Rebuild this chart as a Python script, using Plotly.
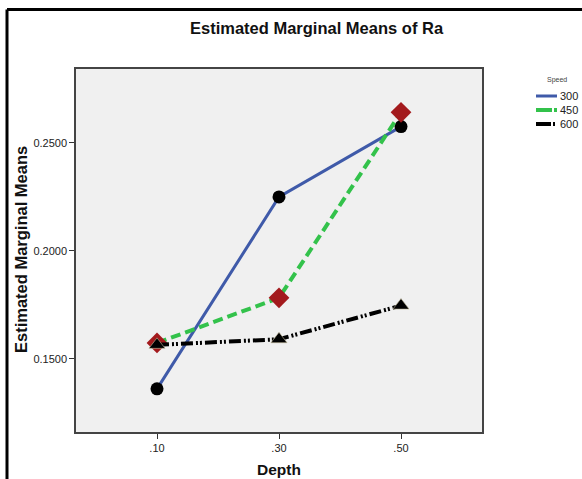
import plotly.graph_objects as go

depths = [".10", ".30", ".50"]
speeds = ["300", "450", "600"]
means_300 = [0.1360, 0.2250, 0.2576]
means_450 = [0.1573, 0.1782, 0.2642]
means_600 = [0.1564, 0.1590, 0.1746]

W, H = 582, 479
ML, MR, MT, MB = 76, 100, 69, 47
PW, PH = W - ML - MR, H - MT - MB

def px2x(px):
    return (px - ML) / PW

def px2y(py):
    return 1 - (py - MT) / PH

FONT = "Liberation Sans, Arial, sans-serif"

styles = {
    "300": dict(color="#3f5aa9", width=3, dash="solid"),
    "450": dict(color="#33c24b", width=4, dash="10px,5px"),
    "600": dict(color="#000000", width=4, dash="12px,3px,2px,2px,2px,3px"),
}
legend_dash = {
    "300": "solid",
    "450": "16px,2px,4px,10px",
    "600": "15px,2px,2px,2px,2px,10px",
}
markers = {
    "300": dict(symbol="circle", size=13, color="#000000", line=dict(width=0)),
    "450": dict(symbol="diamond", size=16, color="#a31a1d", line=dict(width=0)),
    "600": dict(symbol="triangle-up", size=14, color="#000000", line=dict(width=0.6, color="#c8c0a0")),
}

fig = go.Figure()
for name, vals in zip(speeds, [means_300, means_450, means_600]):
    fig.add_trace(go.Scatter(
        x=depths, y=vals, mode="lines+markers", name=name,
        line=styles[name], marker=markers[name], showlegend=False,
    ))

fig.update_layout(
    width=W, height=H,
    margin=dict(l=ML, r=MR, t=MT, b=MB, autoexpand=False),
    paper_bgcolor="white",
    plot_bgcolor="#f0f0f0",
    font=dict(family=FONT, size=11, color="#222222"),
    showlegend=False,
)

fig.update_xaxes(
    type="category", range=[-0.664, 2.664], automargin=False,
    showgrid=False, zeroline=False,
    showline=True, linecolor="#444444", linewidth=1.5, mirror=True,
    ticks="outside", ticklen=5, tickcolor="#333333", tickwidth=1,
    tickfont=dict(size=11, color="#222222"),
)
fig.update_yaxes(
    range=[0.1160, 0.2843], dtick=0.05, tick0=0.15, tickformat=".4f", automargin=False,
    showgrid=False, zeroline=False,
    showline=True, linecolor="#444444", linewidth=1.5, mirror=True,
    ticks="outside", ticklen=5, tickcolor="#333333", tickwidth=1,
    tickfont=dict(size=11, color="#222222"),
)

fig.add_annotation(
    text="<b>Depth</b>", xref="paper", yref="paper",
    x=px2x(279), y=px2y(469), xanchor="center", yanchor="middle",
    showarrow=False, font=dict(size=15.5, color="#111111", family=FONT),
)
fig.add_annotation(
    text="<b>Estimated Marginal Means</b>", xref="paper", yref="paper",
    x=px2x(21), y=px2y(250), xanchor="center", yanchor="middle", textangle=-90,
    showarrow=False, font=dict(size=16.5, color="#111111", family=FONT),
)
fig.add_annotation(
    text="<b>Estimated Marginal Means of Ra</b>", xref="paper", yref="paper",
    x=px2x(317), y=px2y(28), xanchor="center", yanchor="middle",
    showarrow=False, font=dict(size=16.5, color="#111111", family=FONT),
)

# manual legend
fig.add_annotation(
    text="Speed", xref="paper", yref="paper",
    x=px2x(557), y=px2y(80), xanchor="center", yanchor="middle",
    showarrow=False, font=dict(size=7, color="#444444", family=FONT),
)
leg_y = [96, 110, 124]
for name, ly in zip(speeds, leg_y):
    fig.add_shape(type="line", xref="paper", yref="paper",
                  x0=px2x(536), y0=px2y(ly), x1=px2x(557), y1=px2y(ly),
                  line=dict(color=styles[name]["color"], width=styles[name]["width"],
                            dash=legend_dash[name]))
    fig.add_annotation(
        text=name, xref="paper", yref="paper",
        x=px2x(558), y=px2y(ly), xanchor="left", yanchor="middle",
        showarrow=False, font=dict(size=11, color="#222222", family=FONT),
    )

# outer frame (top and left edges)
fig.add_shape(type="line", xref="paper", yref="paper",
              x0=px2x(7), y0=px2y(9.5), x1=px2x(584), y1=px2y(9.5),
              line=dict(color="#000000", width=3))
fig.add_shape(type="line", xref="paper", yref="paper",
              x0=px2x(7), y0=px2y(9.5), x1=px2x(7), y1=px2y(485),
              line=dict(color="#000000", width=3))

fig.write_html("out.html", config={"displayModeBar": False},
               post_script="document.body.style.margin='0';document.body.style.overflow='hidden';")
